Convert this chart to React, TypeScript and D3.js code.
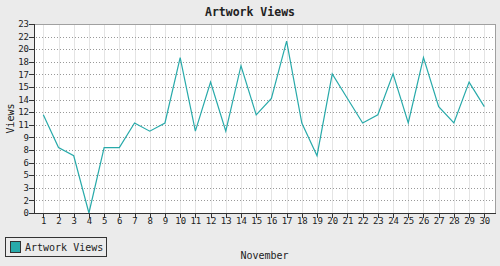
import React from "react";
import * as d3 from "d3";

const days: number[] = d3.range(1, 31);
const views: number[] = [12, 8, 7, 0, 8, 8, 11, 10, 11, 19, 10, 16, 10, 18, 12, 14, 21, 11, 7, 17, 14, 11, 12, 17, 11, 19, 13, 11, 16, 13];
const yTickLabels: string[] = ["0", "2", "3", "5", "6", "8", "9", "11", "12", "14", "15", "17", "18", "20", "22", "23"];
const yMax = 23.1;
const title = "Artwork Views";
const xTitle = "November";
const yTitle = "Views";
const seriesName = "Artwork Views";

const W = 500, H = 266;
const left = 34, right = 495, top = 24, bottom = 213;
const font = "'DejaVu Sans Mono', monospace";
const teal = "#28aaaa";

export default function App() {
  const x = d3.scaleLinear().domain([1, 30]).range([43.3, 484.3]);
  const y = d3.scaleLinear().domain([0, yMax]).range([bottom, top]);
  const yTicks = yTickLabels.map((_, i) => (i * yMax) / (yTickLabels.length - 1));
  const line = d3.line<number>().x((_, i) => x(days[i])).y((d) => y(d));
  return (
    <svg width={W} height={H} style={{ position: "absolute", left: 0, top: 0 }} fontFamily={font}>
      <rect x={0} y={0} width={W} height={H} fill="#ebebeb" />
      <rect x={left} y={top} width={right - left} height={bottom - top} fill="#ffffff" />
      {days.map((d) => (
        <line key={"vg" + d} x1={x(d) + 0.5} x2={x(d) + 0.5} y1={top} y2={bottom} stroke="#e4e4e4" strokeWidth={1} shapeRendering="crispEdges" />
      ))}
      {yTicks.map((t, i) =>
        i === 0 ? null : (
          <line key={"hg" + i} x1={left + 2} x2={right} y1={Math.round(y(t)) + 0.5} y2={Math.round(y(t)) + 0.5} stroke="#999" strokeDasharray="1,2" shapeRendering="crispEdges" />
        )
      )}
      <line x1={left} x2={right + 0.5} y1={top + 0.5} y2={top + 0.5} stroke="#a0a0a0" shapeRendering="crispEdges" />
      <line x1={right + 0.5} x2={right + 0.5} y1={top} y2={bottom} stroke="#a0a0a0" shapeRendering="crispEdges" />
      <path d={line(views) || ""} fill="none" stroke={teal} strokeWidth={1.2} />
      <line x1={left + 0.5} x2={left + 0.5} y1={top} y2={bottom + 1} stroke="#333" shapeRendering="crispEdges" />
      <line x1={left} x2={right + 1} y1={bottom + 0.5} y2={bottom + 0.5} stroke="#333" shapeRendering="crispEdges" />
      {yTicks.map((t, i) => (
        <g key={"yt" + i}>
          <line x1={left - 5} x2={left} y1={Math.round(y(t)) + 0.5} y2={Math.round(y(t)) + 0.5} stroke="#333" shapeRendering="crispEdges" />
          <text x={left - 5} y={y(t)} dy="0.35em" textAnchor="end" fontSize={9} fill="#222">{yTickLabels[i]}</text>
        </g>
      ))}
      {days.map((d) => (
        <g key={"xt" + d}>
          <line x1={x(d) + 0.5} x2={x(d) + 0.5} y1={bottom} y2={bottom + 5} stroke="#333" shapeRendering="crispEdges" />
          <text x={x(d) + 0.5} y={224} textAnchor="middle" fontSize={9} fill="#222">{d}</text>
        </g>
      ))}
      <text x={250} y={16} textAnchor="middle" fontSize={11.5} fontWeight="bold" fill="#222">{title}</text>
      <text x={(left + right) / 2} y={259} textAnchor="middle" fontSize={10} fill="#222">{xTitle}</text>
      <text transform={`translate(13.5,${(top + bottom) / 2}) rotate(-90)`} textAnchor="middle" fontSize={10} fill="#222">{yTitle}</text>
      <rect x={5.5} y={237.5} width={101} height={19} fill="none" stroke="#333" shapeRendering="crispEdges" />
      <rect x={10.5} y={241.5} width={10} height={11} fill={teal} stroke="#333" shapeRendering="crispEdges" />
      <text x={25} y={251} fontSize={10} fill="#222">{seriesName}</text>
    </svg>
  );
}
